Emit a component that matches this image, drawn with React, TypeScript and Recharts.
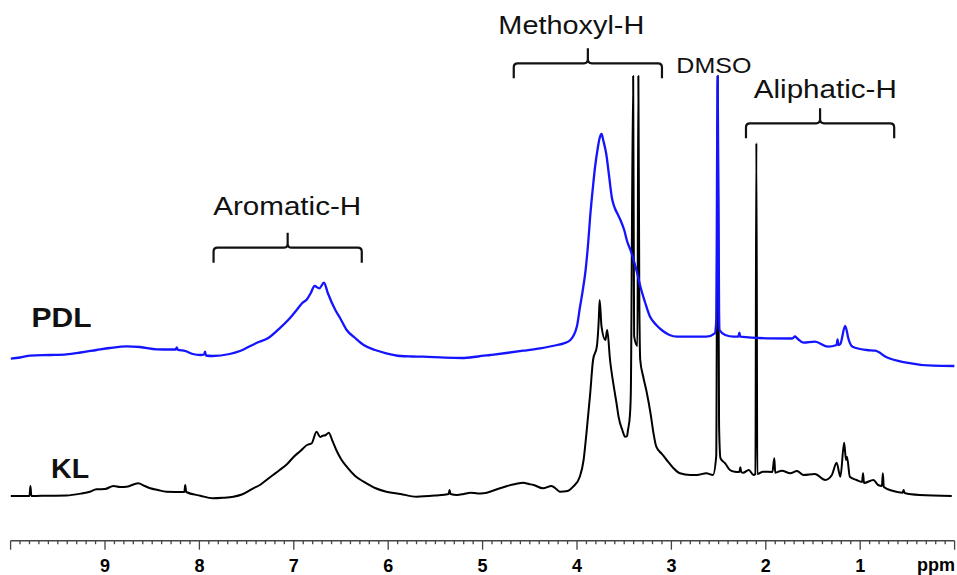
import React from 'react'
import { LineChart, Line, XAxis, YAxis, ReferenceLine, ReferenceDot } from 'recharts'

// KL spectrum: chemical shift (ppm) and intensity (a.u.)
const klPpm = [
  10.0, 9.8, 9.79, 9.78, 9.6, 9.41, 9.25, 9.16, 9.09, 9.0, 8.91, 8.84, 8.77, 8.65, 8.58, 8.52,
  8.44, 8.35, 8.16, 8.15, 8.14, 7.99, 7.86, 7.75, 7.64, 7.55, 7.43, 7.36, 7.29, 7.22, 7.15, 7.07,
  7.0, 6.93, 6.86, 6.81, 6.76, 6.72, 6.7, 6.66, 6.63, 6.59, 6.55, 6.5, 6.44, 6.35, 6.26, 6.14,
  6.02, 5.87, 5.7, 5.5, 5.36, 5.35, 5.34, 5.27, 5.2, 5.13, 5.05, 4.99, 4.87, 4.74, 4.65, 4.57,
  4.51, 4.46, 4.36, 4.27, 4.22, 4.18, 4.1, 4.04, 3.97, 3.93, 3.9, 3.86, 3.83, 3.79, 3.77, 3.76,
  3.74, 3.7, 3.68, 3.65, 3.61, 3.58, 3.56, 3.52, 3.49, 3.47, 3.46, 3.44, 3.43, 3.405, 3.395, 3.36,
  3.35, 3.34, 3.33, 3.3, 3.26, 3.22, 3.19, 3.16, 3.1, 3.05, 2.98, 2.91, 2.8, 2.73, 2.63, 2.56,
  2.525, 2.51, 2.495, 2.48, 2.43, 2.38, 2.33, 2.28, 2.27, 2.26, 2.24, 2.18, 2.13, 2.11, 2.1, 2.09,
  2.03, 1.93, 1.91, 1.9, 1.83, 1.74, 1.67, 1.6, 1.48, 1.37, 1.3, 1.25, 1.21, 1.17, 1.15, 1.14,
  1.11, 1.04, 0.98, 0.97, 0.96, 0.86, 0.81, 0.77, 0.76, 0.75, 0.65, 0.55, 0.54, 0.53, 0.37, 0.03,
]
const klIntensity = [
  0, 0, 10, 0, 0.3, 0.5, 2.5, 4.3, 6.7, 7, 10, 9, 9.3, 12.7, 10, 7.7,
  6, 4.3, 4, 11, 4, 0.3, -2.3, -1.8, -0.7, 1.5, 7.7, 11, 16, 21, 26, 32,
  39.3, 45, 51, 52.7, 64.3, 59, 60, 61, 63.3, 55, 46, 37, 29.3, 20, 14.3, 8,
  4.3, 2, -0.7, 0.5, 2, 6, 2, 1, 2, 3.3, 2.5, 2.7, 6, 10, 12, 13.3,
  12, 11, 7.7, 10, 7, 4.3, 5, 9.3, 19.3, 36, 62.7, 102.7, 136, 149.3, 175, 196,
  169.3, 156, 166, 136, 109.3, 92, 79.3, 66, 59.3, 60, 66, 80, 102.7, 420, 160, 150,
  420, 200, 136, 120, 103, 82, 63, 49.3, 42, 36, 28, 22.7, 21, 21, 22.7, 21,
  40, 420, 70, 37.7, 32.7, 26, 24.3, 24, 28.7, 24, 23.3, 26, 21, 22, 353, 22,
  24.3, 24, 37.7, 23.3, 25.3, 22.7, 25, 21, 22, 16, 21, 33.3, 19.3, 53.3, 36, 39.3,
  19.3, 16, 14, 22.7, 13, 16, 11, 10, 22.7, 9, 5, 3.3, 6, 3, 1, 0,
]

// PDL spectrum, stacked above KL
const pdlPpm = [
  10.0, 9.9, 9.79, 9.58, 9.41, 9.26, 9.09, 8.95, 8.77, 8.63, 8.45, 8.31, 8.25, 8.24, 8.23, 8.15,
  8.07, 7.99, 7.95, 7.94, 7.93, 7.86, 7.68, 7.57, 7.39, 7.27, 7.15, 7.04, 6.97, 6.91, 6.86, 6.82,
  6.78, 6.73, 6.68, 6.64, 6.56, 6.51, 6.44, 6.35, 6.26, 6.14, 6.02, 5.87, 5.75, 5.63, 5.4, 5.22,
  5.05, 4.92, 4.75, 4.57, 4.39, 4.21, 4.14, 4.07, 4.0, 3.97, 3.94, 3.91, 3.88, 3.86, 3.83, 3.81,
  3.78, 3.76, 3.74, 3.72, 3.69, 3.66, 3.63, 3.6, 3.57, 3.54, 3.5, 3.47, 3.43, 3.4, 3.36, 3.33,
  3.28, 3.23, 3.16, 3.09, 3.02, 2.94, 2.63, 2.54, 2.525, 2.51, 2.495, 2.49, 2.43, 2.34, 2.29, 2.28,
  2.27, 1.99, 1.72, 1.69, 1.66, 1.6, 1.48, 1.34, 1.25, 1.24, 1.23, 1.21, 1.16, 1.14, 1.13, 1.08,
  0.93, 0.84, 0.72, 0.51, 0.23, 0.0,
]
const pdlIntensity = [
  7.3, 8.5, 10.3, 11, 11.7, 13.5, 16, 18, 19.7, 19, 16.7, 16.5, 16.5, 18.7, 16.3, 15,
  12, 11, 11.5, 14.3, 10.5, 10, 12, 15, 23.3, 28, 37.7, 48, 56, 63, 66.7, 73,
  80, 77.7, 83.3, 73, 56, 48, 36, 28, 21, 16, 12.7, 10, 9.5, 9.3, 8.3, 8,
  9.5, 11, 13, 15.3, 17.7, 21, 22.7, 26, 40, 58, 75, 95, 125, 150, 180, 198,
  218, 228, 232, 225, 212, 190, 168, 158, 152, 146, 136, 125, 115, 106, 92, 80,
  64, 50, 41, 35, 31, 29.3, 29.3, 32.7, 45, 290, 55, 36, 31, 29.3, 29.5, 33.3,
  29.3, 27.7, 27.5, 29.5, 27, 23.3, 24.3, 19.3, 21, 26.7, 21, 22, 40, 34.3, 29.3, 19.3,
  16, 15.3, 8.7, 3.3, 0.3, 0,
]
const PDL_OFFSET = 130

const axisLabels = [9, 8, 7, 6, 5, 4, 3, 2, 1]

// region brackets: ppm span and height of the bar
const bracketFrom = [7.85, 4.67, 2.21]
const bracketTo = [6.28, 3.1, 0.64]
const bracketLevel = [248.3, 432.7, 372.7]

// text annotations
const noteText = ['Aromatic-H', 'Methoxyl-H', 'DMSO', 'Aliphatic-H', 'PDL', 'KL']
const notePpm = [7.07, 4.06, 2.55, 1.37, 9.46, 9.37]
const noteLevel = [281, 462.5, 422.7, 397.7, 169, 18]
const noteSize = [26, 26, 22, 26, 28, 28]
const noteWeight = ['normal', 'normal', 'normal', 'normal', 'bold', 'bold']
const noteWidth = [148, 146, 75, 143, 60, 38]

const klData = klPpm.map((ppm, i) => ({ ppm, v: klIntensity[i] }))
const pdlData = pdlPpm.map((ppm, i) => ({ ppm, v: pdlIntensity[i] + PDL_OFFSET }))

const tickValues: number[] = []
for (let i = 0; i <= 100; i++) tickValues.push(i / 10)

const FONT = '"Liberation Sans", Arial, sans-serif'

function PpmTick({ x, y, payload }: any) {
  const v = payload.value
  const major = Math.abs(v - Math.round(v)) < 1e-6
  const n = Math.round(v)
  return (
    <g>
      <line x1={x} x2={x} y1={y} y2={y + (major ? 9 : 3.5)} stroke="#444" strokeWidth={1.3} />
      {major && axisLabels.includes(n) && (
        <text x={x} y={y + 31} textAnchor="middle" fontSize={18} fontWeight="bold" fill="#000" fontFamily={FONT}>
          {n}
        </text>
      )}
    </g>
  )
}

function UnitLabel(props: any) {
  const vb = props.viewBox || {}
  return (
    <text x={vb.x + vb.width + 0.5} y={vb.y + 30} textAnchor="end" fontSize={18} fontWeight="bold" fill="#000" fontFamily={FONT}>
      ppm
    </text>
  )
}

function Bracket(props: any) {
  const left = Math.min(props.x1, props.x2)
  const right = Math.max(props.x1, props.x2)
  const y = props.y1
  const mid = (left + right) / 2
  const r = 4
  const d = [
    `M${left},${y + 15} L${left},${y + r} Q${left},${y} ${left + r},${y}`,
    `L${mid - r},${y} Q${mid},${y} ${mid},${y - r} L${mid},${y - 15}`,
    `M${mid},${y - r} Q${mid},${y} ${mid + r},${y}`,
    `L${right - r},${y} Q${right},${y} ${right},${y + r} L${right},${y + 15}`,
  ].join(' ')
  return <path d={d} fill="none" stroke="#111" strokeWidth={2.2} />
}

function Note(props: any) {
  const { cx, cy, text, size, weight, width } = props
  return (
    <text
      x={cx}
      y={cy}
      textAnchor="middle"
      fontSize={size}
      fontWeight={weight}
      fill="#111"
      fontFamily={FONT}
      textLength={width}
      lengthAdjust="spacingAndGlyphs"
    >
      {text}
    </text>
  )
}

export default function App() {
  return (
    <div style={{ position: 'absolute', left: 0, top: 0, width: 957, height: 575, background: '#fff' }}>
      <LineChart width={957} height={575} margin={{ top: 0, right: 2.4, bottom: 0, left: 10.6 }}>
        <XAxis
          type="number"
          dataKey="ppm"
          domain={[0, 10]}
          reversed
          ticks={tickValues}
          interval={0}
          tick={<PpmTick />}
          tickLine={false}
          tickSize={0}
          tickMargin={0}
          height={34.3}
          axisLine={{ stroke: '#444', strokeWidth: 1.6 }}
          allowDataOverflow
          label={<UnitLabel />}
        />
        <YAxis type="number" hide domain={[-44.7, 496]} allowDataOverflow />
        <Line
          data={klData}
          dataKey="v"
          type="monotoneX"
          stroke="#000"
          strokeWidth={2}
          dot={false}
          activeDot={false}
          isAnimationActive={false}
          strokeLinejoin="round"
        />
        <Line
          data={pdlData}
          dataKey="v"
          type="monotoneX"
          stroke="#1414ff"
          strokeWidth={2.3}
          dot={false}
          activeDot={false}
          isAnimationActive={false}
          strokeLinejoin="round"
        />
        {bracketFrom.map((from, i) => (
          <ReferenceLine
            key={`b${i}`}
            segment={[
              { x: from, y: bracketLevel[i] },
              { x: bracketTo[i], y: bracketLevel[i] },
            ]}
            ifOverflow="visible"
            shape={(p: any) => <Bracket {...p} />}
          />
        ))}
        {noteText.map((text, i) => (
          <ReferenceDot
            key={`n${i}`}
            x={notePpm[i]}
            y={noteLevel[i]}
            ifOverflow="visible"
            shape={(p: any) => (
              <Note {...p} text={text} size={noteSize[i]} weight={noteWeight[i]} width={noteWidth[i]} />
            )}
          />
        ))}
      </LineChart>
    </div>
  )
}
